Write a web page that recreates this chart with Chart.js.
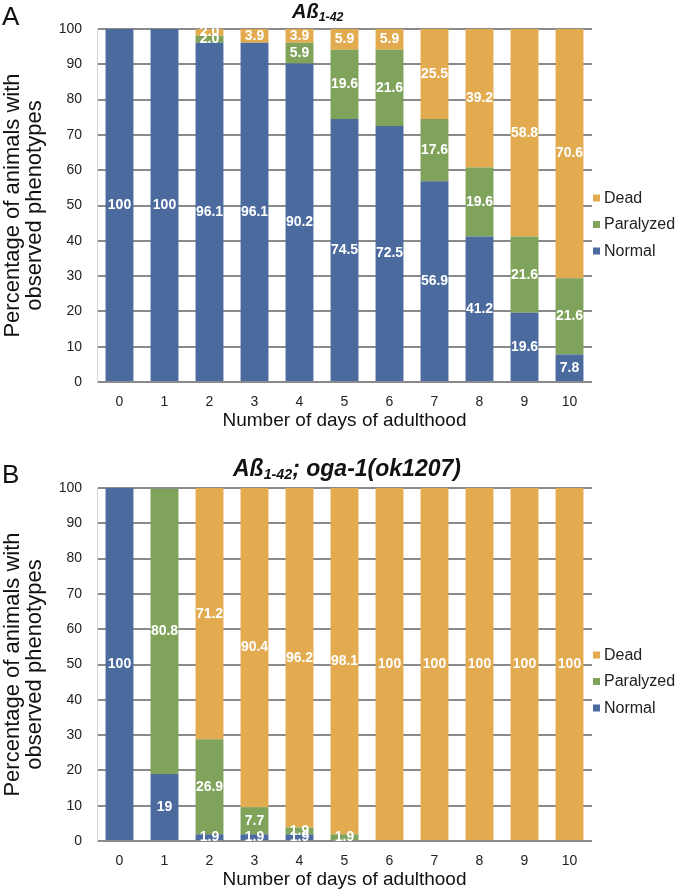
<!DOCTYPE html>
<html>
<head>
<meta charset="utf-8">
<script src="https://cdn.jsdelivr.net/npm/chart.js@4.4.1/dist/chart.umd.min.js"></script>
<style>
html,body{margin:0;padding:0;background:#fff;width:680px;height:892px;overflow:hidden;font-family:"Liberation Sans",Arial,Helvetica,sans-serif;}
.wrap{position:absolute;left:0;width:680px;height:434px;}
.panel{position:absolute;font-size:26px;line-height:26px;color:#111;}
.title{position:absolute;font-weight:bold;font-style:italic;white-space:nowrap;color:#111;}
.title sub{font-size:0.62em;vertical-align:baseline;position:relative;top:0.22em;}
</style>
</head>
<body>
<div class="wrap" style="top:0px"><canvas id="chartA"></canvas></div>
<div class="wrap" style="top:459px"><canvas id="chartB"></canvas></div>
<div class="panel" style="left:2px;top:3px">A</div>
<div class="panel" style="left:2px;top:461px">B</div>
<div class="title" style="left:292px;top:1px;font-size:20px;line-height:20px">Aß<sub>1-42</sub></div>
<div class="title" style="left:233px;top:457px;font-size:23px;line-height:23px">Aß<sub>1-42</sub>; oga-1(ok1207)</div>
<script>
// ---- data ----
const days = ['0','1','2','3','4','5','6','7','8','9','10'];
const seriesNames = ['Normal','Paralyzed','Dead'];
const yTicks = [0,10,20,30,40,50,60,70,80,90,100];

// Panel A: Aß1-42
const aNormal    = [100, 100, 96.1, 96.1, 90.2, 74.5, 72.5, 56.9, 41.2, 19.6, 7.8];
const aParalyzed = [0,   0,   2.0,  0,    5.9,  19.6, 21.6, 17.6, 19.6, 21.6, 21.6];
const aDead      = [0,   0,   2.0,  3.9,  3.9,  5.9,  5.9,  25.5, 39.2, 58.8, 70.6];

// Panel B: Aß1-42; oga-1(ok1207)
const bNormal    = [100, 19,   1.9,  1.9,  1.9,  0,    0,   0,   0,   0,   0];
const bParalyzed = [0,   80.8, 26.9, 7.7,  1.9,  1.9,  0,   0,   0,   0,   0];
const bDead      = [0,   0,    71.2, 90.4, 96.2, 98.1, 100, 100, 100, 100, 100];

const yTitle = ['Percentage of animals with', 'observed phenotypes'];
const xTitle = 'Number of days of adulthood';

// ---- styles ----
const COLORS = ['#4b6a9e', '#7fa35b', '#e2ab50'];
Chart.defaults.font.family = '"Liberation Sans", Arial, Helvetica, sans-serif';

function fmt(v) {
  if (Number.isInteger(v) && v >= 10) return String(v);
  return v.toFixed(1);
}

const valueLabels = {
  id: 'valueLabels',
  afterDatasetsDraw(chart) {
    const ctx = chart.ctx;
    ctx.save();
    ctx.font = 'bold 14px "Liberation Sans", Arial, sans-serif';
    ctx.fillStyle = '#ffffff';
    ctx.textAlign = 'center';
    ctx.textBaseline = 'middle';
    chart.data.datasets.forEach((ds, i) => {
      const meta = chart.getDatasetMeta(i);
      meta.data.forEach((bar, j) => {
        const v = ds.data[j];
        if (!v) return;
        const p = bar.getProps(['x', 'y', 'base'], true);
        ctx.fillText(fmt(v), p.x, (p.y + p.base) / 2);
      });
    });
    ctx.restore();
  }
};

const customLegend = {
  id: 'customLegend',
  afterDraw(chart, args, opts) {
    const ctx = chart.ctx;
    ctx.save();
    ctx.font = '16px "Liberation Sans", Arial, sans-serif';
    ctx.textBaseline = 'middle';
    ctx.textAlign = 'left';
    const n = chart.data.datasets.length;
    for (let k = 0; k < n; k++) {
      const ds = chart.data.datasets[n - 1 - k];
      const cy = opts.top + k * opts.step;
      ctx.fillStyle = ds.backgroundColor;
      ctx.fillRect(opts.x, cy - 3.5, 7, 7);
      ctx.fillStyle = '#222';
      ctx.fillText(ds.label, opts.x + 11, cy + 0.5);
    }
    ctx.restore();
  }
};

function makeChart(id, normal, para, dead, legendTop) {
  return new Chart(document.getElementById(id), {
    type: 'bar',
    data: {
      labels: days,
      datasets: [
        { label: seriesNames[0], data: normal, backgroundColor: COLORS[0] },
        { label: seriesNames[1], data: para, backgroundColor: COLORS[1] },
        { label: seriesNames[2], data: dead, backgroundColor: COLORS[2] }
      ]
    },
    options: {
      responsive: true,
      maintainAspectRatio: false,
      animation: false,
      layout: { padding: { top: 29, right: 88, left: 0, bottom: 0 } },
      datasets: { bar: { categoryPercentage: 1, barPercentage: 0.62 } },
      plugins: {
        legend: { display: false },
        tooltip: { enabled: false },
        customLegend: { x: 593, top: legendTop, step: 26.5 }
      },
      scales: {
        x: {
          stacked: true,
          grid: { display: false, drawTicks: false },
          border: { display: false },
          ticks: { color: '#222', font: { size: 14 }, padding: 12 },
          title: { display: true, text: xTitle, color: '#111', font: { size: 19 }, padding: { top: 0, bottom: 2 } },
          afterFit(s) { s.height = 52; }
        },
        y: {
          stacked: true,
          min: 0,
          max: 100,
          afterBuildTicks(s) { s.ticks = yTicks.map(v => ({ value: v })); },
          ticks: { color: '#222', font: { size: 14 }, padding: 15 },
          grid: { color: '#8a8a8a', lineWidth: 2, drawTicks: false },
          border: { display: true, color: '#d4d4d4', width: 1 },
          title: { display: true, text: yTitle, color: '#111', font: { size: 22, lineHeight: 1 }, padding: { top: 2, bottom: 0 } },
          afterFit(s) { s.width = 97; }
        }
      }
    },
    plugins: [valueLabels, customLegend]
  });
}

makeChart('chartA', aNormal, aParalyzed, aDead, 198);
makeChart('chartB', bNormal, bParalyzed, bDead, 196);
</script>
</body>
</html>
